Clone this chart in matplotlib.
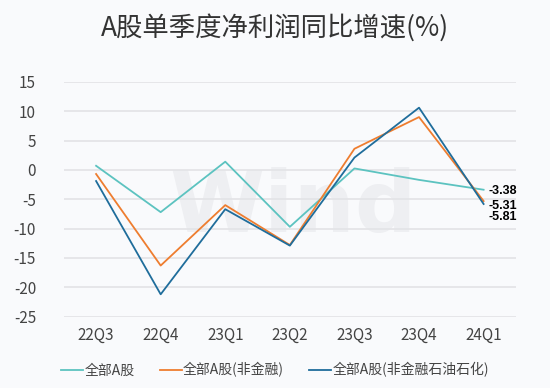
import matplotlib
matplotlib.use('Agg')
import matplotlib.pyplot as plt

plt.rcParams['font.family'] = ['Noto Sans CJK SC', 'DejaVu Sans']
plt.rcParams['axes.unicode_minus'] = False

# ===== data =====
quarters = ['22Q3', '22Q4', '23Q1', '23Q2', '23Q3', '23Q4', '24Q1']
all_a = [0.7, -7.2, 1.4, -9.7, 0.25, -1.7, -3.38]
non_fin = [-0.7, -16.3, -6.0, -12.8, 3.6, 9.0, -5.31]
non_fin_petro = [-1.9, -21.2, -6.7, -12.9, 2.1, 10.6, -5.81]
names = ['全部A股', '全部A股(非金融)', '全部A股(非金融石油石化)']
colors = ['#5cc3c0', '#ee7d2f', '#1f6d9b']

bg = '#f9fafc'
fig = plt.figure(figsize=(5.5, 3.88), dpi=100, facecolor=bg)
ax = fig.add_axes([0.116, 0.184, 0.822, 0.605], facecolor=bg)

x = range(len(quarters))
for ys, c, n in zip([all_a, non_fin, non_fin_petro], colors, names):
    ax.plot(x, ys, color=c, linewidth=1.3, label=n)

# end-point labels
labels = [(-3.38, -3.55), (-5.31, -6.1), (-5.81, -7.95)]
for val, ypos in labels:
    ax.text(6.07, ypos, f'{val:.2f}', fontsize=9, fontweight='bold',
            ha='left', va='center', color='black', family='Liberation Sans')

# faint watermark
ax.text(3.05, -6.5, 'Wind', fontsize=62, fontweight='bold', color='#eeeff2',
        ha='center', va='center', zorder=0, family='DejaVu Sans')

ax.set_xlim(-0.5, 6.5)
ax.set_ylim(-25, 15)
ax.set_yticks(range(-25, 16, 5))
ax.set_xticks(list(x))
ax.set_xticklabels(quarters)
ax.tick_params(axis='both', length=0, labelsize=11, colors='#444444')
ax.tick_params(axis='y', pad=20)
ax.tick_params(axis='x', pad=7)
ax.grid(axis='y', color='#e3e3e6', linewidth=1.2)
ax.set_axisbelow(True)
for s in ax.spines.values():
    s.set_visible(False)

fig.suptitle('A股单季度净利润同比增速(%)', fontsize=19, color='#333333', y=0.965)
fig.legend(loc='lower center', bbox_to_anchor=(0.5, -0.005), ncol=3, frameon=False,
           fontsize=10, handlelength=1.6, handletextpad=0.1, columnspacing=1.8,
           labelcolor='#444444')

fig.savefig('out.png', dpi=100, facecolor=bg)
